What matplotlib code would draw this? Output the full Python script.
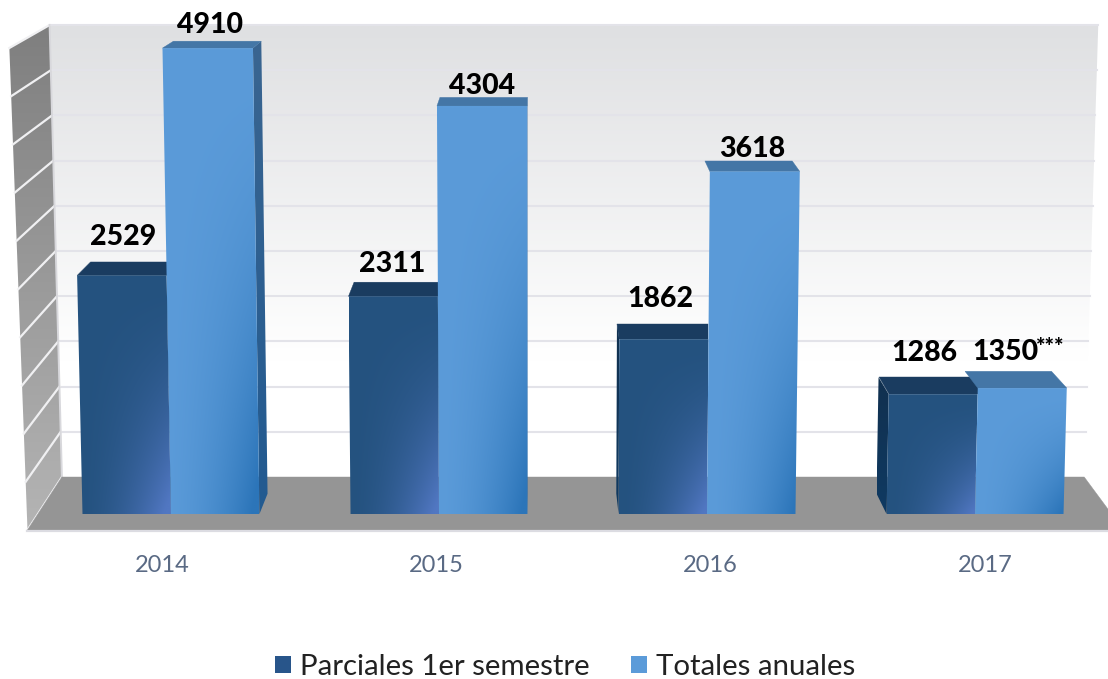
import numpy as np
import matplotlib
matplotlib.use('Agg')
import matplotlib.pyplot as plt
from matplotlib.colors import to_rgb
from matplotlib.patches import Patch, Polygon

years = ['2014', '2015', '2016', '2017']
parciales = [2529, 2311, 1862, 1286]
totales = [4910, 4304, 3618, 1350]
grid_values = [0, 500, 1000, 1500, 2000, 2500, 3000, 3500, 4000, 4500, 5000]

# pixel scale of the picture, the axes work in category / value units
X0, XS = 171.0, 268.0
Y0, YS = 517.0, 0.0955
VX = (540 - X0) / XS
VY = (Y0 + 190) / YS
BAR_W = 0.33
BAR_BASE = 30
BAR_DEPTH = 0.029
BAR_LEAN = 4.7e-6


def cat_x(px):
    return (px - X0) / XS


def val_y(py):
    return (Y0 - py) / YS


def lean(x, v, k):
    return x + k * (x - VX) * v, v


def to_back(x, v, f=BAR_DEPTH):
    return x + (VX - x) * f, v + (VY - v) * f


def wall_front(px, w):
    return lean(cat_x(px), val_y(530 - 0.0964 * w), 7e-6)


def wall_back(px, w):
    return lean(cat_x(px), val_y(477 - 0.0904 * w), 5.45e-6)


fig = plt.figure(figsize=(11.08, 6.79), dpi=100)
ax = fig.add_axes([0, 1 - 531 / 679, 1, 531 / 679])
ax.set_xlim(cat_x(0), cat_x(1108))
ax.set_ylim(val_y(531), val_y(0))
for s in ax.spines.values():
    s.set_visible(False)
ax.set_yticks([])


def gradient(points, color_a, color_b, func, z):
    # paints a polygon with a blend, func gives the mix from u (left-right) and w (top-bottom)
    pts = np.array(points)
    x1, x2 = pts[:, 0].min(), pts[:, 0].max()
    y1, y2 = pts[:, 1].min(), pts[:, 1].max()
    u, w = np.meshgrid(np.linspace(0, 1, 80), np.linspace(0, 1, 80))
    t = np.clip(func(u, w), 0, 1)[..., None]
    img = np.array(to_rgb(color_a)) * (1 - t) + np.array(to_rgb(color_b)) * t
    im = ax.imshow(img, extent=(x1, x2, y1, y2), origin='upper', aspect='auto',
                   interpolation='bilinear', zorder=z)
    clip = Polygon(pts, closed=True, transform=ax.transData)
    im.set_clip_path(clip)


def flat(points, color, z):
    ax.add_patch(Polygon(points, closed=True, facecolor=color, edgecolor=color, lw=0.3, zorder=z))


def draw_bar(x1, x2, value, front, top_color, side_top, side_bottom, z, dark=True):
    a = lean(x1, BAR_BASE, BAR_LEAN)
    b = lean(x2, BAR_BASE, BAR_LEAN)
    c = lean(x2, value, BAR_LEAN)
    d = lean(x1, value, BAR_LEAN)
    # side face, only the one that can be seen
    if x2 < VX:
        pts = [b, c, to_back(*c), to_back(*b)]
        gradient(pts, side_top, side_bottom, lambda u, w: w, z)
    if x1 > VX and dark:
        pts = [a, d, to_back(*d), to_back(*a)]
        gradient(pts, side_top, side_bottom, lambda u, w: w, z)
    back_c = to_back(*c)
    if dark:
        # the dark top runs on under the light bar, no notch between them
        back_c = (max(back_c[0], c[0]), back_c[1])
    flat([d, c, back_c, to_back(*d)], top_color, z + 0.1)
    gradient([a, b, c, d], front[0], front[1], lambda u, w: 1.12 * (u * w) ** 1.7, z + 0.2)


# back wall
corner = [wall_back(63, 0), wall_back(1083, 0), wall_back(1083, 5000), wall_back(63, 5000)]
gradient(corner, '#dfe0e2', '#ffffff', lambda u, w: w * 1.35, 1)
for g in grid_values[1:]:
    p1 = wall_back(63, g)
    p2 = wall_back(1083, g)
    ax.plot([p1[0], p2[0]], [p1[1], p2[1]], color='#e3e3e9', lw=1.5, zorder=1.5)

# left wall
corner = [wall_front(27, 0), wall_back(63, 0), wall_back(63, 5000), wall_front(27, 5000)]
gradient(corner, '#7f7f7f', '#b4b4b4', lambda u, w: w, 2)
for g in grid_values:
    p1 = wall_front(27, g)
    p2 = wall_back(63, g)
    ax.plot([p1[0], p2[0]], [p1[1], p2[1]], color='#f0f0f2', lw=1.6, zorder=2.5)
p1 = wall_back(63, 0)
p2 = wall_back(63, 5000)
ax.plot([p1[0], p2[0]], [p1[1], p2[1]], color='#d8d8dc', lw=1.4, zorder=2.5)

# floor
flat([wall_front(27, 0), wall_front(1124, 0), wall_back(1083, 0), wall_back(63, 0)], '#959595', 3)
ax.plot([cat_x(27), cat_x(1108)], [val_y(530.5)] * 2, color='#dcdce2', lw=1.6, zorder=3.2, clip_on=False)

dark_front = ('#24527f', '#5177c2')
light_front = ('#5b9bd9', '#2c75b9')
for i in range(len(years)):
    z = 4 + i * 2
    draw_bar(i - BAR_W, i, parciales[i], dark_front, '#1a3c60', '#11304f', '#0f3a62', z)
    draw_bar(i, i + BAR_W, totales[i], light_front, '#4476a6', '#3a6591', '#225a90', z + 1, dark=False)

# value labels, offsets in pixels from the top of the front face
off_dark = [(1, 38), (-1, 32), (-3, 40), (-9, 41)]
off_light = [(2, 23), (0, 20), (-3, 22), (-17, 36)]
font = {'family': 'Lato', 'weight': 'black', 'fontsize': 20.5, 'color': 'black', 'zorder': 20,
        'ha': 'center', 'va': 'center'}
for i in range(len(years)):
    x, v = lean(i - BAR_W / 2, parciales[i], BAR_LEAN)
    ax.annotate(str(parciales[i]), (x, v), xytext=(off_dark[i][0] * 0.72, off_dark[i][1] * 0.72),
                textcoords='offset points', **font)
    x, v = lean(i + BAR_W / 2, totales[i], BAR_LEAN)
    ax.annotate(str(totales[i]), (x, v), xytext=(off_light[i][0] * 0.72, off_light[i][1] * 0.72),
                textcoords='offset points', **font)
ax.annotate('***', (lean(3 + BAR_W / 2, totales[3], BAR_LEAN)), xytext=(20, 29),
            textcoords='offset points', family='Lato', weight='black', fontsize=16,
            ha='center', va='center', zorder=20)

# year labels sit on the front edge of the floor
tick_pos = [i + (i - VX) * 0.0227 for i in range(len(years))]
ax.set_xticks(tick_pos)
ax.set_xticklabels(years, family='Lato', fontsize=17, color='#5a6a84')
ax.tick_params(axis='x', length=0, pad=17.5)

handles = [Patch(facecolor='#28558a', label='Parciales 1er semestre'),
           Patch(facecolor='#5b9bd9', label='Totales anuales')]
fig.legend(handles=handles, loc='center', bbox_to_anchor=(565 / 1108, 1 - 667 / 679), ncol=2,
           frameon=False, handlelength=0.55, handleheight=0.55, handletextpad=0.3, columnspacing=1.4,
           borderpad=0, labelcolor='#222222', prop={'family': 'Lato', 'size': 21.2})

ax.set_xlim(cat_x(0), cat_x(1108))
ax.set_ylim(val_y(531), val_y(0))
fig.savefig('out.png', dpi=100)
